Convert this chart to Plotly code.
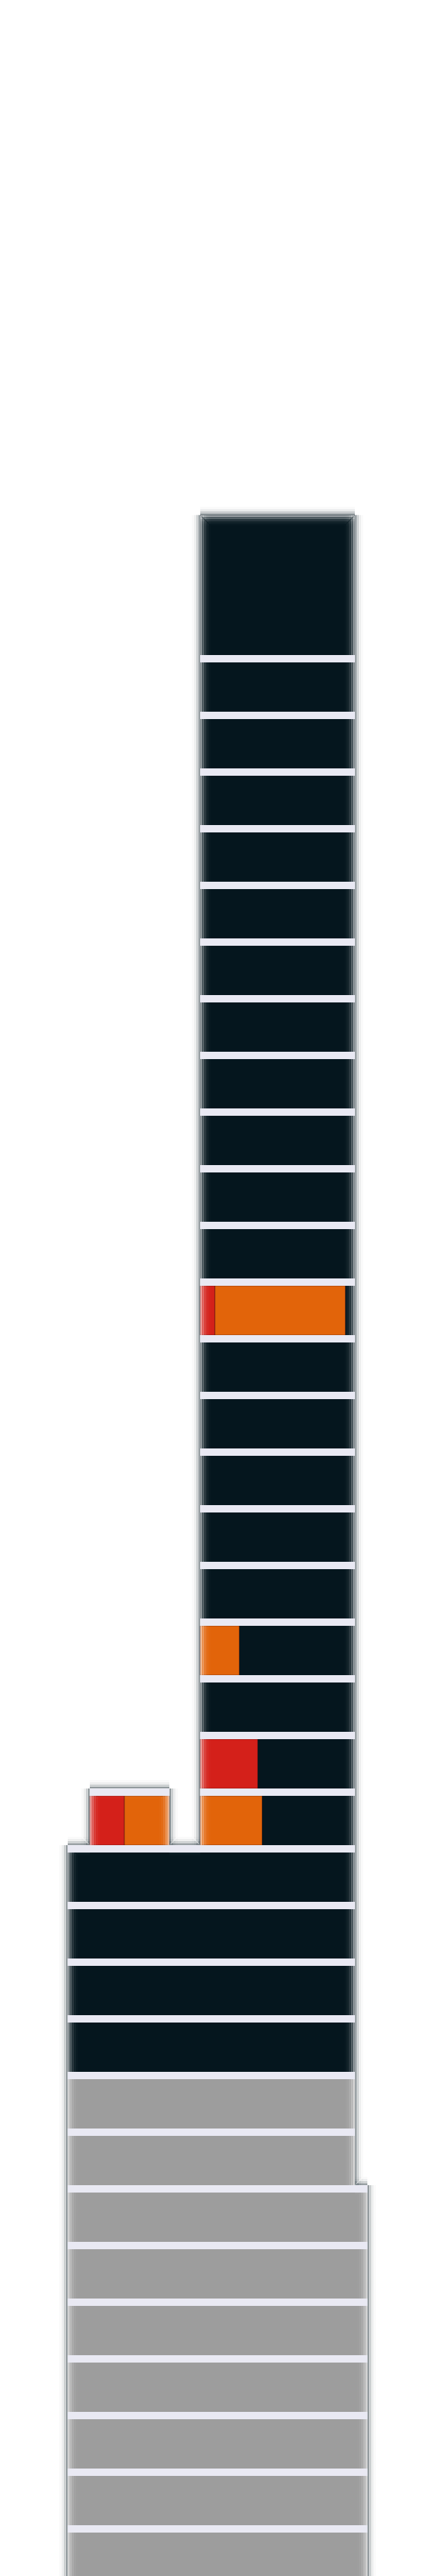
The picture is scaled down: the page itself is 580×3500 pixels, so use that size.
import plotly.graph_objects as go
from statistics import NormalDist

# ---------------- data ----------------
# storeys from top (25) to lowest basement (-8); extents in metres along the section
floors = list(range(25, -9, -1))
floor_left = [27.2] * 21 + [9.2] * 13
floor_right = [48.2] * 27 + [49.9] * 7
floor_use = ["tower"] * 21 + ["podium"] * 4 + ["basement"] * 9

roof_levels = 2.47          # height of the roof block, in storeys
roof_left, roof_right = 27.2, 48.2

wing_floor = [5]
wing_left = [12.2]
wing_right = [23.0]

inc_floor = [14, 14, 8, 6, 5, 5, 5]
inc_left = [27.2, 29.2, 27.2, 27.2, 27.2, 12.2, 16.9]
inc_right = [29.2, 46.9, 32.5, 35.0, 35.6, 16.9, 23.0]
inc_kind = ["red", "orange", "orange", "red", "orange", "red", "orange"]

# ---------------- styling ----------------
COL = {"tower": "#05161e", "podium": "#05161e", "basement": "#9d9d9d",
       "red": "#d4201a", "orange": "#e2640a"}
SEP_COL = "#e9e9f3"
BAR_W = 67 / 77
SEP_W = 10 / 77
PX_X = 0.1        # x units per pixel
PX_Y = 1 / 77     # y units per pixel
PAGE_OFF = 8      # default page margin in front of the figure

fig = go.Figure()


def hbar(ys, bases, lengths, widths, color, opacity=1.0, line=0):
    fig.add_trace(go.Bar(orientation="h", y=ys, base=bases, x=lengths, width=widths,
                         marker=dict(color=color, line=dict(width=line, color="rgba(60,20,20,0.6)")),
                         opacity=opacity, hoverinfo="skip", showlegend=False))


# rows: intervals per storey
rows = []
for n, l, r, u in zip(floors, floor_left, floor_right, floor_use):
    iv = [(l, r)]
    for wf, wl, wr in zip(wing_floor, wing_left, wing_right):
        if wf == n:
            iv.append((wl, wr))
    rows.append(dict(n=n, iv=sorted(iv), use=u,
                     bottom=n - BAR_W / 2, top=n + BAR_W / 2 + SEP_W))

roof_bottom = floors[0] + BAR_W / 2 + SEP_W
roof = dict(iv=[(roof_left, roof_right)], bottom=roof_bottom, top=roof_bottom + roof_levels)

# roof block
hbar([(roof["bottom"] + roof["top"]) / 2], [roof_left], [roof_right - roof_left],
     [roof_levels], COL["tower"])

# storey bars
for use in ["tower", "podium", "basement"]:
    ys, bs, ls = [], [], []
    for row in rows:
        if row["use"] != use:
            continue
        for a, b in row["iv"]:
            ys.append(row["n"]); bs.append(a); ls.append(b - a)
    hbar(ys, bs, ls, [BAR_W] * len(ys), COL[use])

# incident segments
for kind in ["red", "orange"]:
    ys = [f for f, k in zip(inc_floor, inc_kind) if k == kind]
    bs = [a for a, k in zip(inc_left, inc_kind) if k == kind]
    ls = [b - a for a, b, k in zip(inc_left, inc_right, inc_kind) if k == kind]
    hbar(ys, bs, ls, [BAR_W] * len(ys), COL[kind], line=0.8)


# ---------------- soft edges ----------------
def subtract(ivs, others):
    out = []
    for a, b in ivs:
        segs = [(a, b)]
        for c, d in others:
            new = []
            for s, e in segs:
                if d <= s or c >= e:
                    new.append((s, e))
                else:
                    if c > s:
                        new.append((s, c))
                    if d < e:
                        new.append((d, e))
            segs = new
        out.extend(segs)
    return out


all_rows = [roof] + rows
v_edges = []   # (x, direction inward, y0, y1)
h_edges = []   # (y, direction inward, x0, x1)
for i, row in enumerate(all_rows):
    for a, b in row["iv"]:
        v_edges.append((a, 1, row["bottom"], row["top"]))
        v_edges.append((b, -1, row["bottom"], row["top"]))
    above = all_rows[i - 1]["iv"] if i > 0 else []
    for a, b in subtract(row["iv"], above):
        h_edges.append((row["top"], -1, a, b))
    below = all_rows[i + 1]["iv"] if i + 1 < len(all_rows) else None
    if below is not None:
        for a, b in subtract(row["iv"], below):
            h_edges.append((row["bottom"], 1, a, b))

nd = NormalDist()
STEP = 1.5
N_STEP = 9
SIG_IN, SIG_OUT = 5.5, 4.5
for side in ["in", "out"]:
    for k in range(N_STEP):
        d0, d1 = k * STEP, (k + 1) * STEP
        sig = SIG_IN if side == "in" else SIG_OUT
        op = nd.cdf(-(d0 + d1) / 2 / sig)
        color = "#ffffff" if side == "in" else "#05161e"
        if side == "out":
            op *= 0.75
        ys, bs, ls, ws = [], [], [], []
        for x, s, y0, y1 in v_edges:
            sgn = s if side == "in" else -s
            p0 = x + sgn * d0 * PX_X
            p1 = x + sgn * d1 * PX_X
            ys.append((y0 + y1) / 2); ws.append(y1 - y0)
            bs.append(min(p0, p1)); ls.append(abs(p1 - p0))
        for y, s, x0, x1 in h_edges:
            sgn = s if side == "in" else -s
            q0 = y + sgn * d0 * PX_Y
            q1 = y + sgn * d1 * PX_Y
            ys.append((q0 + q1) / 2); ws.append(abs(q1 - q0))
            bs.append(x0); ls.append(x1 - x0)
        hbar(ys, bs, ls, ws, color, op)

# separators (top of each storey)
ys, bs, ls = [], [], []
for row in rows:
    for a, b in row["iv"]:
        ys.append(row["n"] + BAR_W / 2 + SEP_W / 2); bs.append(a); ls.append(b - a)
hbar(ys, bs, ls, [SEP_W] * len(ys), SEP_COL)

# axis ranges: screen x = PAGE_OFF + plot px; floor n centre at screen y 2858.5 - 77 n
x0 = PAGE_OFF * PX_X
y_top = (2858.5 - PAGE_OFF) / 77
fig.update_layout(
    width=580, height=3500, margin=dict(l=0, r=0, t=0, b=0),
    paper_bgcolor="white", plot_bgcolor="white", barmode="overlay",
    showlegend=False,
    xaxis=dict(range=[x0, x0 + 58], visible=False, fixedrange=True),
    yaxis=dict(range=[y_top - 3500 / 77, y_top], visible=False, fixedrange=True),
)
fig.write_html("out.html")
